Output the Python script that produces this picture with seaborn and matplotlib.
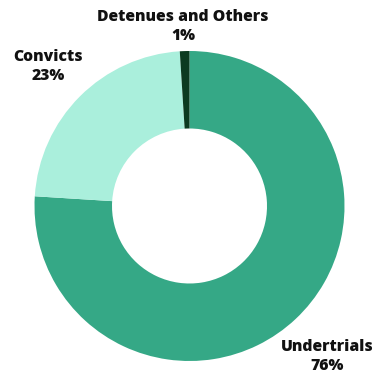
import matplotlib
matplotlib.use("Agg")
import matplotlib.pyplot as plt
import seaborn as sns

categories = ["Undertrials", "Convicts", "Detenues and Others"]
shares = [76, 23, 1]
colors = ["#35a886", "#aaefdc", "#0c3a20"]

sns.set_style("white")
plt.rcParams["font.family"] = ["Open Sans", "DejaVu Sans"]

fig = plt.figure(figsize=(3.76, 3.74), dpi=100)
ax = fig.add_axes([0, 0, 1, 1])
ax.pie(shares, colors=colors, startangle=90, counterclock=False,
       radius=1.0, wedgeprops=dict(width=0.5, linewidth=0))
ax.set_aspect("equal")
ax.set_xlim(-1.2226, 1.2032)
ax.set_ylim(-1.0839, 1.329)
ax.axis("off")

label_pos = {
    "Undertrials": (0.888, -0.968),
    "Convicts": (-0.913, 0.897),
    "Detenues and Others": (-0.042, 1.158),
}
for cat, val in zip(categories, shares):
    x, y = label_pos[cat]
    ax.text(x, y, f"{cat}\n{val}%", ha="center", va="center",
            fontsize=11.3, fontweight="heavy", color="#111111", linespacing=1.25)

fig.savefig("out.png", dpi=100, facecolor="white")
